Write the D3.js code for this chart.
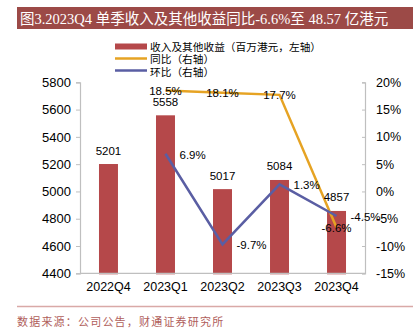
<!DOCTYPE html>
<html><head><meta charset="utf-8">
<script src="https://cdn.jsdelivr.net/npm/d3@7/dist/d3.min.js"></script>
<style>body{margin:0;background:#fff}svg{display:block}</style>
</head><body>
<svg id="c" width="413" height="330"></svg>
<script>
const categories = ["2022Q4","2023Q1","2023Q2","2023Q3","2023Q4"];
const revenue = [5201,5558,5017,5084,4857];
const yoy = [null,18.5,18.1,17.7,-6.6];
const qoq = [null,6.9,-9.7,1.3,-4.5];
const leftTicks = [4400,4600,4800,5000,5200,5400,5600,5800];
const rightTicks = [-15,-10,-5,0,5,10,15,20];
const titleText = "图3.2023Q4 单季收入及其他收益同比-6.6%至 48.57 亿港元";
const sourceText = "数据来源：公司公告，财通证券研究所";
const legendLabels = ["收入及其他收益（百万港元，左轴）","同比（右轴）","环比（右轴）"];

const svg = d3.select("#c");
const L=80, R=365, T=82.3, B=273.3;
const sans = "Liberation Sans, Arial, Noto Sans CJK SC, sans-serif";
const cBar="#B5484A", cYoy="#E6A323", cQoq="#5A5EA3", cAxis="#BFBFBF";

const x = d3.scaleBand().domain(categories).range([L,R]).paddingInner(0.667).paddingOuter(0.333);
const yL = d3.scaleLinear().domain([4400,5800]).range([B,T]);
const yR = d3.scaleLinear().domain([-15,20]).range([B,T]);
const cx = c => x(c)+x.bandwidth()/2;

// title
svg.append("rect").attr("x",17).attr("y",7).attr("width",396).attr("height",22).attr("fill","#9C4A47");
svg.append("text").attr("x",20).attr("y",23.5).attr("fill","#fff")
  .style("font-family","Liberation Serif, DejaVu Serif, Noto Sans CJK SC, serif").style("font-size","14.5px").text(titleText);

// bars
svg.selectAll(".bar").data(categories).enter().append("rect")
  .attr("x",d=>x(d)).attr("width",x.bandwidth())
  .attr("y",(d,i)=>yL(revenue[i])).attr("height",(d,i)=>B+1-yL(revenue[i]))
  .attr("fill",cBar);

// axes
const gl = svg.append("g").attr("transform",`translate(${L},0)`)
  .call(d3.axisLeft(yL).tickValues(leftTicks).tickSize(4).tickPadding(5).tickFormat(d3.format("d")));
const gr = svg.append("g").attr("transform",`translate(${R},0)`)
  .call(d3.axisRight(yR).tickValues(rightTicks).tickSize(-3).tickPadding(11).tickFormat(d=>d+"%"));
const gb = svg.append("g").attr("transform",`translate(0,${B})`)
  .call(d3.axisBottom(x).tickSize(0).tickPadding(9));
[gl,gr,gb].forEach(g=>{
  g.select(".domain").attr("stroke",cAxis).attr("stroke-width",1.2);
  g.selectAll(".tick line").attr("stroke",cAxis);
  g.selectAll("text").attr("fill","#000").style("font-family",sans).style("font-size","13px");
});
gb.selectAll("text").style("font-size","12.5px");
gr.selectAll("text").style("font-size","12.5px");
gb.select(".domain").attr("d",`M${L},0H${R}`);

// lines
const line = (arr,scale)=>d3.line().defined((d,i)=>arr[i]!==null).x(d=>cx(d)).y((d,i)=>scale(arr[i]))(categories);
svg.append("path").attr("d",line(yoy,yR)).attr("fill","none").attr("stroke",cYoy).attr("stroke-width",2.5);
svg.append("path").attr("d",line(qoq,yR)).attr("fill","none").attr("stroke",cQoq).attr("stroke-width",2.5);

// bar labels
svg.selectAll(".bl").data(categories).enter().append("text")
  .attr("x",d=>cx(d)).attr("y",(d,i)=>yL(revenue[i])-9.5).attr("text-anchor","middle")
  .style("font-family",sans).style("font-size","11.5px").text((d,i)=>revenue[i]);
// yoy labels centered on points
svg.selectAll(".yl").data(categories.filter((d,i)=>yoy[i]!==null)).enter().append("text")
  .attr("x",d=>cx(d)).attr("y",d=>yR(yoy[categories.indexOf(d)])+4.5).attr("text-anchor","middle")
  .style("font-family",sans).style("font-size","11.5px").text(d=>yoy[categories.indexOf(d)].toFixed(1)+"%");
// qoq labels right of points
svg.selectAll(".ql").data(categories.filter((d,i)=>qoq[i]!==null)).enter().append("text")
  .attr("x",d=>cx(d)+14).attr("y",d=>yR(qoq[categories.indexOf(d)])+5).attr("text-anchor","start")
  .style("font-family",sans).style("font-size","11.5px").text(d=>qoq[categories.indexOf(d)].toFixed(1)+"%");

// legend
const lg = svg.append("g");
lg.append("rect").attr("x",115).attr("y",43.5).attr("width",32).attr("height",6).attr("fill",cBar);
lg.append("line").attr("x1",115).attr("x2",147).attr("y1",58.5).attr("y2",58.5).attr("stroke",cYoy).attr("stroke-width",2.5);
lg.append("line").attr("x1",115).attr("x2",147).attr("y1",70.5).attr("y2",70.5).attr("stroke",cQoq).attr("stroke-width",2.5);
legendLabels.forEach((t,i)=>{
  lg.append("text").attr("x",150).attr("y",50.5+i*12.5).style("font-family","Noto Sans CJK SC, sans-serif")
    .style("font-size","10.7px").attr("fill","#000").text(t);
});

// footer
svg.append("line").attr("x1",17).attr("x2",413).attr("y1",306.5).attr("y2",306.5).attr("stroke","#D9A9A7").attr("stroke-width",1.5);
svg.append("text").attr("x",17).attr("y",326).attr("fill","#B05E5B")
  .style("font-family","Noto Sans CJK SC, serif").style("font-size","11px").style("letter-spacing","1.2px").text(sourceText);
</script>
</body></html>
